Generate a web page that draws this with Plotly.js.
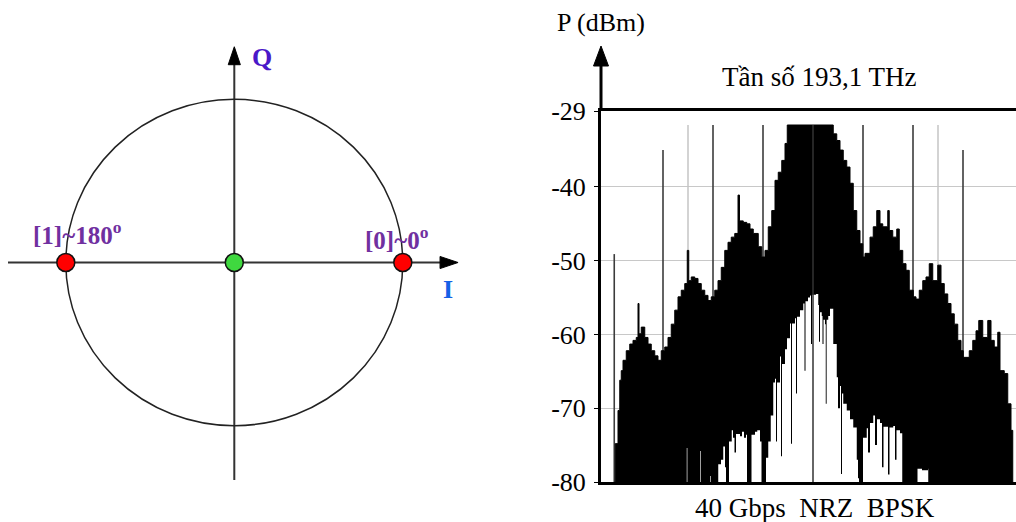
<!DOCTYPE html>
<html><head><meta charset="utf-8">
<script src="https://cdn.plot.ly/plotly-3.0.1.min.js"></script>
<style>html,body{margin:0;padding:0;overflow:hidden;background:#fff}</style>
</head><body><div id="chart" style="width:1016px;height:522px"></div>
<script>
// ---------- Constellation (BPSK) ----------
const constI = [-1, 0, 1];
const constQ = [0, 0, 0];
const constLabelText = ['[1]~180<sup>o</sup>', '[0]~0<sup>o</sup>'];
const constLabelI = [-0.928, 0.966];
const constLabelQ = [0.181, 0.150];

// ---------- Spectrum (GHz offset from 193,1 THz, dBm) ----------
const upperF = [-158.6,-158.2,-156,-154.6,-153.4,-152,-149.4,-146.6,-144,-141.4,-140,-139.2,-137.4,-134.6,-132,-129.4,-126.6,-124,-121.4,-118.6,-116,-113.4,-110.6,-108,-105.4,-102.6,-100.6,-99.4,-97.4,-94.6,-92,-89.4,-86.6,-84,-81.4,-78.6,-76,-73.4,-70.6,-68,-65.4,-62.6,-60,-58.8,-55.8,-53,-50.4,-47.8,-43.8,-41,-38.4,-35.8,-33,-30.4,-27.8,-25,-22.4,-20.6,13.6,16.2,19,21.6,24.2,27,29.6,32.2,35,37.6,39.8,41.6,45.6,48.2,51,53.6,55.8,59.8,61,63.8,67,69,71.8,74.4,77,80.2,82.4,85,87.8,90.4,93,95.8,99.8,102.4,105,107.8,110.4,113,115.8,118.4,120.2,122.4,125,127.8,130.4,132.6,135.8,139.8,142.4,145,147.8,149.6,153,155.8,158.4,159.8];
const upperP = [-80,-74.8,-70.3,-66.2,-64.9,-63.5,-62.2,-61.3,-60.8,-60.4,-55.8,-59.9,-59,-60.4,-61.3,-62.2,-62.9,-63.5,-62.2,-61.7,-60.4,-58.6,-56.7,-54.9,-54,-53.1,-48.6,-52.7,-52.2,-52.4,-53.1,-54,-54.7,-55.4,-54.9,-54,-52.7,-50.9,-48.6,-47.5,-46.8,-46.3,-41.1,-44.6,-44.8,-45,-45.7,-46.3,-48.1,-49.5,-48.6,-45.4,-43.2,-39.1,-38,-36.4,-34.1,-31.6,-31.6,-32.8,-33.7,-35,-36.4,-37.3,-39.5,-43.2,-45.9,-47.7,-49.5,-49,-46.8,-45.4,-43.2,-45,-45.4,-43.2,-45.9,-46.8,-45.7,-48.6,-50.4,-51.3,-54,-54.9,-55.2,-54,-52.7,-52.2,-50.4,-52.7,-50.6,-53.1,-54.5,-55.8,-57.2,-58.6,-60.8,-62.2,-63.1,-63.1,-62.2,-60.8,-59.5,-58.1,-60.4,-58.1,-60.8,-61.7,-59.7,-64.9,-65.3,-69.4,-73,-80];
const lowerF = [-158.6,-102.4,-101.6,-101.0,-100.5,-90.8,-90.4,-89.9,-82.8,-82.4,-81.9,-78.4,-75.8,-73.6,-71.8,-70.4,-69.6,-68.4,-67.2,-65.0,-64.0,-62.8,-61.6,-58.4,-56.8,-55.2,-53.6,-52.8,-50.4,-49.2,-46.4,-44.6,-42.4,-41.2,-38.4,-37.6,-35.8,-33.8,-31.8,-30.4,-29.6,-28.8,-26.4,-25.6,-24.8,-22.4,-20.8,-18.4,-17.6,-16.8,-14.4,-13.6,-12.8,-10.4,-7.8,-6.8,-6.0,-4.0,-2.4,-1.6,-0.8,2.4,4.2,4.8,5.6,7.0,7.6,8.4,9.6,10.2,10.9,12.2,13.6,16.2,19.0,20.0,21.6,22.4,23.2,24.2,27.0,29.6,32.2,35.0,36.0,36.8,39.0,40.0,43.0,44.0,45.6,48.2,49.6,51.2,53.6,55.2,56.4,59.0,60.0,61.2,64.2,65.6,66.8,69.6,71.4,83.2,83.6,87.2,92.0,92.2,159.8];
const lowerP = [-80,-80,-80,-75.4,-80,-80,-75.8,-80,-80,-79.2,-80,-80,-77.6,-77,-75.2,-78,-80,-80,-74.5,-73,-74,-76,-73.5,-73.8,-73.2,-74,-73.6,-80,-80,-73.6,-73.2,-73,-74.5,-80,-80,-76.7,-74.5,-71,-66.5,-66,-74.5,-66.5,-63,-76.5,-64,-62,-60.5,-58.5,-74.8,-58.5,-57.8,-68,-57.6,-56.7,-55.8,-64.9,-55.5,-55,-54.7,-61.3,-54.6,-54.5,-56,-61,-57,-57.5,-61.3,-58,-58.6,-69.4,-58,-57.5,-56.5,-61.3,-65.8,-70,-67,-78.9,-68,-69.4,-70.3,-71.5,-72.6,-77,-79.5,-80,-80,-74,-72.7,-76,-72,-71,-75,-71.5,-72,-78,-72.5,-72.5,-79,-72.6,-72.4,-77,-73,-73.4,-80,-80,-78.2,-78.4,-78.2,-80,-80];
// discrete spectral lines
const toneF = [-159, -120, -80, -40, 0, 40, 80, 120];
const toneTop = [-49.1, -35, -31.6, -31.6, -31.6, -31.6, -31.6, -35];
const refF = [-100, 100];
const refTop = [-31.6, -31.6];
const yTickVals = [-29.7, -40, -50, -60, -70, -80];
const yTickText = ['-29', '-40', '-50', '-60', '-70', '-80'];

const floor = -80;
function lines(fs, tops) {
  const x = [], y = [];
  fs.forEach((f, i) => { x.push(f, f, null); y.push(floor, tops[i], null); });
  return {x, y};
}
const tones = lines(toneF, toneTop);
const refs = lines(refF, refTop);
const centerIdx = toneF.indexOf(0);
const span = [upperF[0], upperF[upperF.length - 1]];

const W = 1016, H = 522;
const px = p => p / W, py = p => 1 - p / H;
const serif = '"Liberation Serif","Times New Roman",serif';
const sp = {xaxis:'x2', yaxis:'y2', hoverinfo:'skip'};

const traces = [
  {type:'scatter', mode:'markers', x:constI, y:constQ, xaxis:'x', yaxis:'y',
   marker:{size:18, color:['#ff0000','#3fd83f','#ff0000'], line:{color:'#111', width:1.5}},
   hoverinfo:'skip'},
  Object.assign({type:'scatter', mode:'lines', x:refs.x, y:refs.y, line:{color:'#c4c4c4', width:1.5}}, sp),
  Object.assign({type:'scatter', mode:'lines', x:tones.x, y:tones.y, line:{color:'#3c3c3c', width:1.6}}, sp),
  // floor baseline, then black area up to the upper envelope
  Object.assign({type:'scatter', mode:'lines', x:span, y:[floor, floor], line:{width:0, color:'rgba(0,0,0,0)'}}, sp),
  Object.assign({type:'scatter', mode:'lines', x:upperF, y:upperP, fill:'tonexty', fillcolor:'#000',
    line:{color:'#000', width:1, shape:'hv', simplify:false}}, sp),
  // floor baseline, then white gaps up to the lower envelope
  Object.assign({type:'scatter', mode:'lines', x:span, y:[floor, floor], line:{width:0, color:'rgba(0,0,0,0)'}}, sp),
  Object.assign({type:'scatter', mode:'lines', x:lowerF, y:lowerP, fill:'tonexty', fillcolor:'#fff',
    line:{color:'rgba(0,0,0,0)', width:0, shape:'hv', simplify:false}}, sp),
  Object.assign({type:'scatter', mode:'lines', x:[toneF[centerIdx], toneF[centerIdx]], y:[floor, toneTop[centerIdx]],
    line:{color:'#333', width:1.5}}, sp)
];

const shapes = [
  {type:'line', xref:'x', yref:'y', x0:-1.343, x1:1.24, y0:0, y1:0, layer:'below', line:{color:'#333', width:2}},
  {type:'path', xref:'x', yref:'y', path:'M 1.328 0 L 1.221 0.037 L 1.221 -0.037 Z', fillcolor:'#000', line:{color:'#000', width:1}},
  {type:'line', xref:'x', yref:'y', x0:0, x1:0, y0:-1.333, y1:1.22, layer:'below', line:{color:'#333', width:2}},
  {type:'path', xref:'x', yref:'y', path:'M 0 1.322 L 0.036 1.212 L -0.036 1.212 Z', fillcolor:'#000', line:{color:'#000', width:1}},
  {type:'circle', xref:'x', yref:'y', x0:-1, x1:1, y0:-1, y1:1, layer:'below', line:{color:'#222', width:1.5}},
  {type:'line', xref:'paper', yref:'paper', x0:px(601), x1:px(601), y0:py(111), y1:py(62), line:{color:'#000', width:3}},
  {type:'path', xref:'paper', yref:'paper',
   path:`M ${px(601)} ${py(46)} L ${px(593.5)} ${py(66)} L ${px(608.5)} ${py(66)} Z`, fillcolor:'#000', line:{color:'#000', width:1}}
];

const ann = (xref, yref, x, y, text, font) => ({xref, yref, x, y, text, font, showarrow:false, xanchor:'center', yanchor:'middle'});
const annotations = [
  ann('x', 'y', constLabelI[0], constLabelQ[0], constLabelText[0], {family:serif, size:25, color:'#7030a0', weight:'bold'}),
  ann('x', 'y', constLabelI[1], constLabelQ[1], constLabelText[1], {family:serif, size:25, color:'#7030a0', weight:'bold'}),
  ann('x', 'y', 0.164, 1.259, '<b>Q</b>', {family:serif, size:26, color:'#4a18c8'}),
  ann('x', 'y', 1.268, -0.168, '<b>I</b>', {family:serif, size:26, color:'#1560e6'}),
  ann('paper', 'paper', px(601), py(22), 'P (dBm)', {family:serif, size:26, color:'#000'}),
  ann('paper', 'paper', px(819), py(77), 'Tần số 193,1 THz', {family:serif, size:27, color:'#000'}),
  ann('paper', 'paper', px(815), py(508), '40 Gbps\u00a0 NRZ\u00a0 BPSK', {family:serif, size:27, color:'#000'})
];

const layout = {
  width:W, height:H, margin:{l:0, r:0, t:0, b:0, pad:0},
  paper_bgcolor:'#fff', plot_bgcolor:'#fff', showlegend:false,
  font:{family:serif, size:26, color:'#000'},
  xaxis:{domain:[0, 0.5], range:[-1.3905, 1.6243], visible:false, fixedrange:true},
  yaxis:{domain:[0, 1], range:[-1.590, 1.6085], visible:false, fixedrange:true},
  xaxis2:{domain:[601/W, 1], range:[-169.6, 162.4], anchor:'y2', showline:true, mirror:true,
    linecolor:'#000', linewidth:2.5, showgrid:false, zeroline:false, showticklabels:false, ticks:'', fixedrange:true},
  yaxis2:{domain:[(H-482)/H, (H-111)/H], range:[-80, -29.7], anchor:'x2', showline:true,
    linecolor:'#000', linewidth:3, tickvals:yTickVals, ticktext:yTickText, ticks:'outside',
    ticklen:4, tickcolor:'#000', showgrid:true, gridcolor:'#c8c8c8', gridwidth:1.2, zeroline:false,
    ticklabelstandoff:3, tickfont:{family:serif, size:26, color:'#000'}, fixedrange:true},
  shapes, annotations
};

Plotly.newPlot('chart', traces, layout, {displayModeBar:false});
</script></body></html>
